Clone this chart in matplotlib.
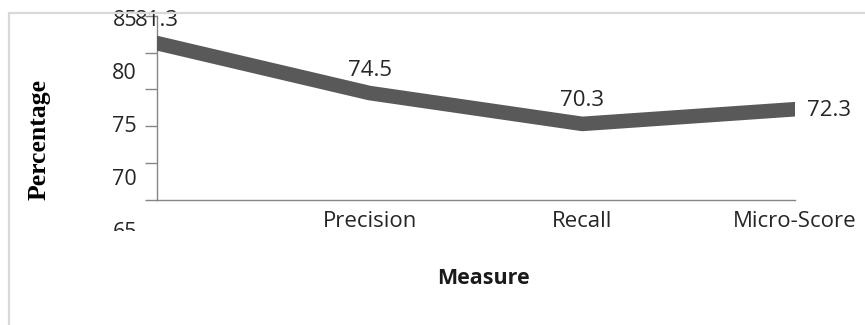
import matplotlib.pyplot as plt
import matplotlib.transforms as mtransforms
from matplotlib.patches import Rectangle

# Scores per measure (percent)
measures = ["", "Precision", "Recall", "Micro-Score"]
scores = [81.3, 74.5, 70.3, 72.3]
score_labels = ["81.3", "74.5", "70.3", "72.3"]
ytick_values = [60, 65, 70, 75, 80, 85]
ytick_text = [85, 80, 75, 70, 65]

W, H = 865, 325


def fx(px):
    return px / W


def fy(py):
    return 1 - py / H


fig = plt.figure(figsize=(W / 100, H / 100), dpi=100)
plt.rcParams['font.family'] = ['Open Sans', 'DejaVu Sans']

# light chart border
fig.patches.append(Rectangle((fx(9), -0.1), 1.2, fy(13) + 0.1, transform=fig.transFigure,
                             fill=False, edgecolor='#d9d9d9', lw=1.6, zorder=0))

ax = fig.add_axes([fx(157), fy(199.5), fx(795) - fx(157), (199.5 - 16) / H])
ax.plot(range(len(scores)), scores, color='#595959', lw=10.5,
        solid_capstyle='projecting', solid_joinstyle='round', zorder=3)

ax.set_xlim(0, len(scores) - 1)
ax.set_ylim(60, 85)
ax.set_yticks(ytick_values)
ax.tick_params(axis='y', length=8.6, width=1, color='#868686', labelleft=False)
ax.set_xticks(range(len(measures)), measures)
ax.tick_params(axis='x', length=0, pad=8, labelsize=16, labelcolor='#262626')
for s in ['top', 'right']:
    ax.spines[s].set_visible(False)
for s in ['left', 'bottom']:
    ax.spines[s].set_color('#868686')
    ax.spines[s].set_linewidth(1)

# value labels
for i, (v, t) in enumerate(zip(scores, score_labels)):
    if i == len(scores) - 1:
        ax.annotate(t, (i, v), xytext=(9, -1), textcoords='offset points',
                    ha='left', va='center', fontsize=16, color='#262626')
    else:
        ax.annotate(t, (i, v), xytext=(0, 16.5), textcoords='offset points',
                    ha='center', va='center', fontsize=16, color='#262626')

# y tick labels sit on their own scale, clipped at the bottom
top_px, bot_px = 0, 231
lab = fig.add_axes([fx(100), fy(bot_px), fx(157) - fx(100), (bot_px - top_px) / H])
lab.set_ylim(85 - (bot_px - 20) / 10.6, 85 + (20 - top_px) / 10.6)
lab.axis('off')
trans = mtransforms.blended_transform_factory(lab.transAxes, lab.transData)
for v in ytick_text:
    lab.text((137 - 100) / (157 - 100), v, str(v),
             transform=trans, ha='right', va='center', fontsize=15.5,
             color='#262626', clip_on=True)

ax.set_xlabel("Measure", fontsize=15.5, fontweight='bold', color='#1a1a1a')
ax.xaxis.set_label_coords((483 - 157) / 638, (199.5 - 278) / 183.5)
ax.xaxis.label.set_va('center')

ax.set_ylabel("Percentage", fontsize=18.5, fontweight='bold', family='Liberation Serif',
              color='black')
ax.yaxis.set_label_coords((39 - 157) / 638, (199.5 - 140) / 183.5)
ax.yaxis.label.set_va('center')

fig.savefig("out.png", dpi=100)
